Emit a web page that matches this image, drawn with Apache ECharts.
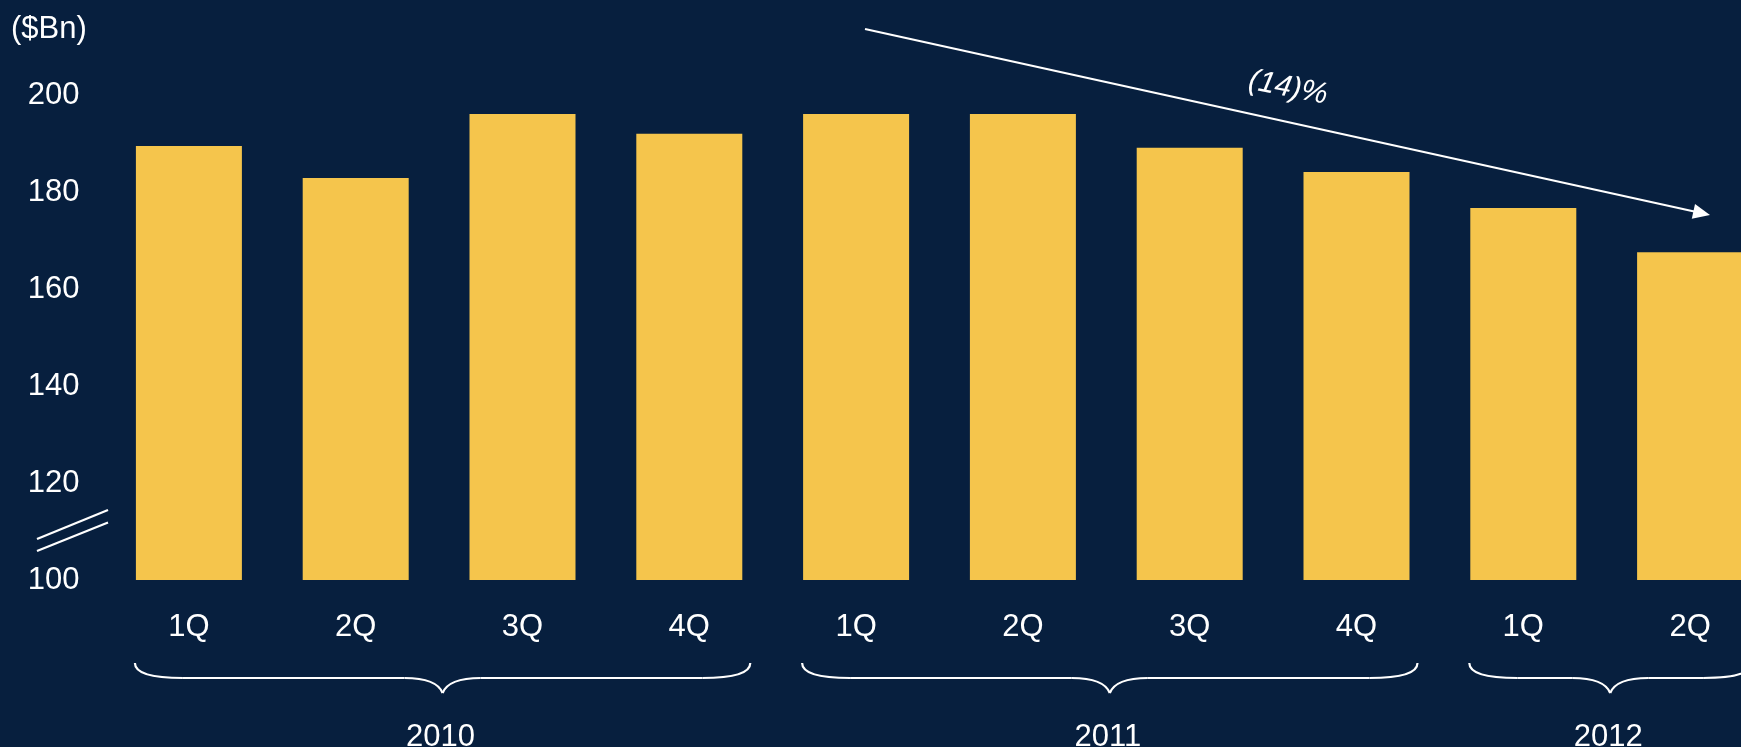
<!DOCTYPE html>
<html><head><meta charset="utf-8">
<script src="https://cdn.jsdelivr.net/npm/echarts/dist/echarts.min.js"></script>
<style>html,body{margin:0;padding:0;background:#071F3E;}#c{width:1741px;height:747px;}</style>
</head><body><div id="c"></div>
<script>
// ---- data ----
const categories = ['1Q','2Q','3Q','4Q','1Q','2Q','3Q','4Q','1Q','2Q'];
const values = [189.5, 182.9, 196.1, 192.0, 196.1, 196.1, 189.1, 184.1, 176.7, 167.6];
const years = ['2010', '2011', '2012'];
const yearFirstIndex = [0, 4, 8];
const yearLastIndex = [3, 7, 9];
const yMin = 100, yMax = 200, yInterval = 20;
const unitLabel = '($Bn)';
const changeLabel = '(14)%';

// ---- style ----
const BG = '#071F3E', BAR = '#F5C54C', FG = '#FFFFFF';
const FONT = '"Liberation Sans", Arial, sans-serif';
const BAR_W = 106;

const chart = echarts.init(document.getElementById('c'), null, {renderer: 'canvas'});
const option = {
  backgroundColor: BG,
  animation: false,
  grid: {left: 105.5, top: 95, width: 1668, height: 485, containLabel: false, outerBoundsMode: 'none'},
  xAxis: {
    type: 'category', data: categories,
    axisLine: {show: false}, axisTick: {show: false}, splitLine: {show: false},
    axisLabel: {color: FG, fontSize: 31, fontFamily: FONT, margin: 32, interval: 0}
  },
  yAxis: {
    type: 'value', min: yMin, max: yMax, interval: yInterval,
    axisLine: {show: false}, axisTick: {show: false}, splitLine: {show: false},
    axisLabel: {color: FG, fontSize: 31, fontFamily: FONT, margin: 26}
  },
  series: [{
    type: 'bar', data: values, barWidth: BAR_W,
    itemStyle: {color: BAR}, silent: true
  }]
};
chart.setOption(option);

// ---- annotations ----
const g = [];
const LW = 2.2;
g.push({type: 'text', x: 11, y: 29, style: {text: unitLabel, fill: FG, font: '31px ' + FONT, verticalAlign: 'middle', align: 'left'}});
// axis break marks
g.push({type: 'line', shape: {x1: 37, y1: 539, x2: 108, y2: 510}, style: {stroke: FG, lineWidth: LW}});
g.push({type: 'line', shape: {x1: 37, y1: 551, x2: 108, y2: 522.5}, style: {stroke: FG, lineWidth: LW}});
// trend arrow
const ax = 865, ay = 29, bx = 1710, by = 215;
const ang = Math.atan2(by - ay, bx - ax);
const hl = 17, hw = 7.5;
const baseX = bx - hl * Math.cos(ang), baseY = by - hl * Math.sin(ang);
g.push({type: 'line', shape: {x1: ax, y1: ay, x2: baseX + 2 * Math.cos(ang), y2: baseY + 2 * Math.sin(ang)}, style: {stroke: FG, lineWidth: LW}});
g.push({type: 'polygon', shape: {points: [
  [bx, by],
  [baseX + hw * Math.sin(ang), baseY - hw * Math.cos(ang)],
  [baseX - hw * Math.sin(ang), baseY + hw * Math.cos(ang)]
]}, style: {fill: FG}});
g.push({type: 'text', x: 1288, y: 88, rotation: -ang * 0.9, style: {text: changeLabel, fill: FG, font: 'italic 30px ' + FONT, align: 'center', verticalAlign: 'middle'}});
// year braces
const yTop = 663, yMid = 678, yTip = 693;
years.forEach((yr, i) => {
  const x0 = chart.convertToPixel({xAxisIndex: 0}, yearFirstIndex[i]) - BAR_W / 2 - 1;
  const x1 = chart.convertToPixel({xAxisIndex: 0}, yearLastIndex[i]) + BAR_W / 2 + 8;
  const xm = (x0 + x1) / 2;
  const st = {stroke: FG, lineWidth: LW, fill: null};
  g.push({type: 'bezierCurve', shape: {x1: x0, y1: yTop, cpx1: x0, cpy1: yMid, x2: x0 + 48, y2: yMid}, style: st});
  g.push({type: 'line', shape: {x1: x0 + 48, y1: yMid, x2: xm - 38, y2: yMid}, style: st});
  g.push({type: 'bezierCurve', shape: {x1: xm - 38, y1: yMid, cpx1: xm - 6, cpy1: yMid, x2: xm, y2: yTip}, style: st});
  g.push({type: 'bezierCurve', shape: {x1: xm, y1: yTip, cpx1: xm + 6, cpy1: yMid, x2: xm + 38, y2: yMid}, style: st});
  g.push({type: 'line', shape: {x1: xm + 38, y1: yMid, x2: x1 - 48, y2: yMid}, style: st});
  g.push({type: 'bezierCurve', shape: {x1: x1 - 48, y1: yMid, cpx1: x1, cpy1: yMid, x2: x1, y2: yTop}, style: st});
  g.push({type: 'text', x: xm - 2, y: 737, style: {text: yr, fill: FG, font: '31px ' + FONT, align: 'center', verticalAlign: 'middle'}});
});
chart.setOption({graphic: g});
</script></body></html>
